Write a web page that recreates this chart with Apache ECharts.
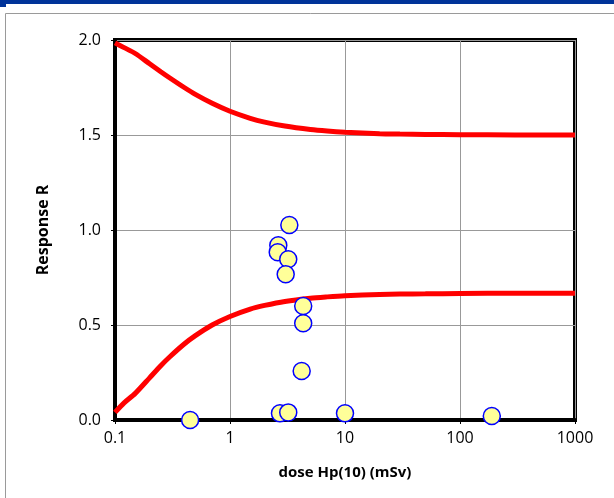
<!DOCTYPE html>
<html><head><meta charset="utf-8">
<script src="https://cdn.jsdelivr.net/npm/echarts@6/dist/echarts.min.js"></script>
<style>html,body{margin:0;padding:0;background:#fff}#c{width:614px;height:498px}</style>
</head><body><div id="c"></div>
<script>
const xTicks = [0.1, 1, 10, 100, 1000];
const yTicks = [0.0, 0.5, 1.0, 1.5, 2.0];
const curveDose = [0.1, 0.12, 0.15, 0.2, 0.25, 0.3, 0.4, 0.5, 0.7, 1, 1.5, 2, 3, 5, 7, 10, 20, 30, 50, 100, 300, 1000];
const upperLimit = [1.985, 1.96, 1.929, 1.875, 1.833, 1.80, 1.75, 1.714, 1.667, 1.625, 1.588, 1.568, 1.547, 1.529, 1.521, 1.515, 1.507, 1.505, 1.503, 1.5015, 1.5005, 1.5];
const lowerLimit = [0.04, 0.09, 0.14, 0.222, 0.286, 0.333, 0.40, 0.444, 0.50, 0.545, 0.584, 0.603, 0.624, 0.641, 0.648, 0.654, 0.661, 0.663, 0.664, 0.666, 0.667, 0.667];
const measDose = [0.45, 2.63, 2.60, 3.21, 3.05, 3.28, 4.33, 4.33, 4.2, 2.72, 3.21, 10, 189];
const measResp = [0.0, 0.92, 0.883, 0.846, 0.767, 1.026, 0.60, 0.509, 0.258, 0.035, 0.04, 0.035, 0.021];

const chart = echarts.init(document.getElementById('c'));
const zip = (a, b) => a.map((v, i) => [v, b[i]]);
const fmtX = v => { const t = xTicks.find(t => Math.abs(Math.log10(t) - Math.log10(v)) < 1e-6); return t === undefined ? '' : String(t); };
chart.setOption({
  animation: false,
  backgroundColor: '#fff',
  graphic: [
    {type: 'rect', shape: {x: 0, y: 0, width: 614, height: 4}, style: {fill: '#003399'}},
    {type: 'rect', shape: {x: 0, y: 0, width: 6, height: 7}, style: {fill: '#003399'}},
    {type: 'rect', shape: {x: 5.5, y: 13.5, width: 700, height: 600}, style: {fill: 'none', stroke: '#9a9a9a', lineWidth: 1}, z: -10}
  ],
  grid: {left: 115, top: 40, width: 460, height: 380, show: true, borderColor: '#000', borderWidth: 4, backgroundColor: 'transparent'},
  xAxis: {
    type: 'log', logBase: 10, min: 0.1, max: 1000,
    name: 'dose Hp(10) (mSv)', nameLocation: 'middle', nameGap: 45,
    nameTextStyle: {fontFamily: 'Open Sans', fontWeight: 'bold', fontSize: 15, color: '#000'},
    axisLine: {show: true, lineStyle: {color: '#000', width: 4}},
    axisTick: {show: true, length: 4, lineStyle: {color: '#000'}},
    axisLabel: {fontFamily: 'Open Sans', fontSize: 16, color: '#000', margin: 10, formatter: fmtX},
    splitLine: {show: true, lineStyle: {color: '#999', width: 1}},
    minorTick: {show: false}
  },
  yAxis: {
    type: 'value', min: 0, max: 2, interval: 0.5,
    name: 'Response R', nameLocation: 'middle', nameGap: 64, nameRotate: 90,
    nameTextStyle: {fontFamily: 'Open Sans', fontWeight: 'bold', fontSize: 16, color: '#000'},
    axisLine: {show: true, lineStyle: {color: '#000', width: 4}},
    axisTick: {show: true, length: 4, lineStyle: {color: '#000'}},
    axisLabel: {fontFamily: 'Open Sans', fontSize: 16, color: '#000', margin: 14,
      formatter: v => yTicks.find(t => Math.abs(t - v) < 1e-9).toFixed(1)},
    splitLine: {show: true, lineStyle: {color: '#999', width: 1}}
  },
  series: [
    {type: 'line', data: zip(curveDose, upperLimit), smooth: 0.25, showSymbol: false, lineStyle: {color: '#ff0000', width: 5}, z: 3},
    {type: 'line', data: zip(curveDose, lowerLimit), smooth: 0.25, showSymbol: false, lineStyle: {color: '#ff0000', width: 5}, z: 3},
    {type: 'scatter', data: zip(measDose, measResp), symbol: 'circle', symbolSize: 17, clip: false,
      itemStyle: {color: '#ffff99', borderColor: '#0000ff', borderWidth: 1.5, opacity: 1}, z: 5}
  ]
});
</script></body></html>
